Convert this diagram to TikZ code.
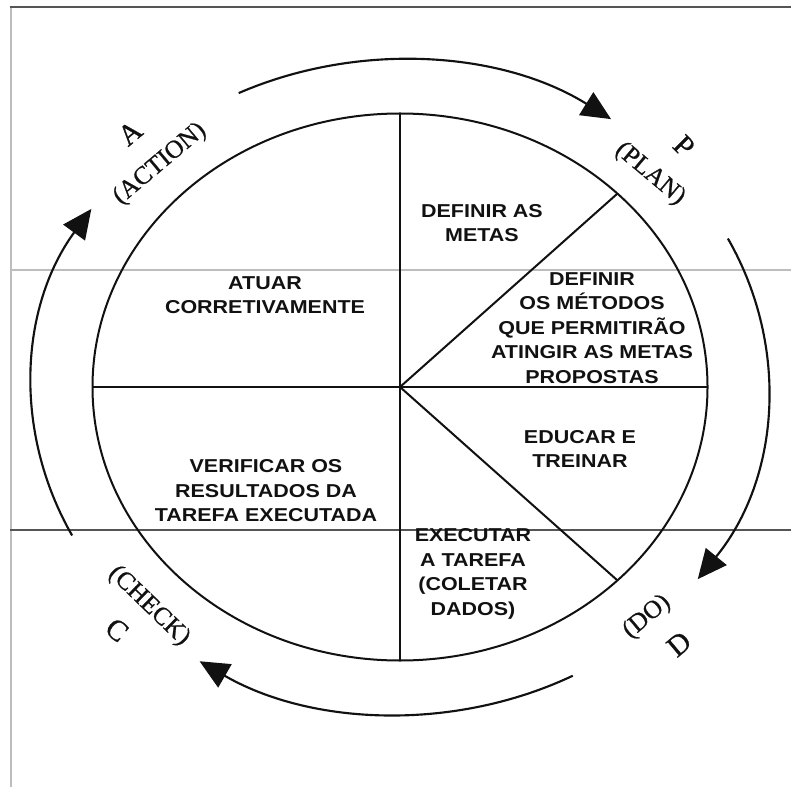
\documentclass[tikz,border=0pt]{standalone}
\usepackage{fontspec}
\setmainfont{Liberation Serif}
\setsansfont{Liberation Sans}[FakeStretch=1.15]
\newfontfamily\cyclefont{Liberation Serif}[FakeBold=0.8]
\usepackage{tikz}
\usetikzlibrary{arrows.meta,calc}
\definecolor{Ink}{HTML}{111111}
\definecolor{RuleDark}{HTML}{555555}
\definecolor{RuleFaint}{HTML}{BDBDBD}
\tikzset{
  secttext/.style={align=center, font=\sffamily\bfseries\fontsize{14}{18.4}\selectfont,
    text=Ink},
  cyclearr/.style={-{Triangle[length=22pt,width=20pt]}, line width=1.6pt, color=Ink},
  cyclelbl/.style={font=\cyclefont\fontsize{19}{22}\selectfont, text=Ink, inner sep=0pt},
  wheelline/.style={draw=Ink, line width=1.5pt},
}

\begin{document}
\begin{tikzpicture}[x=0.75pt,y=-0.75pt]
  \useasboundingbox (0,0) rectangle (791,787);
  \coordinate (c) at (400,387);

  % page rules
  \draw[RuleFaint, line width=1.5pt] (11,7) -- (11,787);
  \draw[RuleDark, line width=1.3pt] (10,7) -- (791,7);
  \draw[RuleFaint, line width=0.8pt] (10,270) -- (791,270);
  \draw[RuleDark, line width=0.8pt] (10,530) -- (791,530);

  % wheel
  \draw[wheelline] (c) ellipse [x radius=307.5, y radius=273.5];
  \foreach \ang in {-90,-45,0,45,90,180}
    \draw[wheelline] (c) -- ++(\ang:307.5 and 273.5);

  % cycle arrows
  \draw[cyclearr] (c) ++(-116:368 and 327) arc[start angle=-116, end angle=-55, x radius=368, y radius=327];
  \draw[cyclearr] (c) ++(-27:368 and 327) arc[start angle=-27, end angle=36, x radius=368, y radius=327];
  \draw[cyclearr] (c) ++(62:368 and 327) arc[start angle=62, end angle=123, x radius=368, y radius=327];
  \draw[cyclearr] (c) ++(153:368 and 327) arc[start angle=153, end angle=213, x radius=368, y radius=327];

  % PDCA labels
  \node[cyclelbl, rotate=40, font=\cyclefont\fontsize{22}{24}\selectfont]  (lblA) at (130,133) {A};
  \node[cyclelbl, rotate=40]  (lblAct)  at (160,164) {(ACTION)};
  \node[cyclelbl, rotate=-45, font=\cyclefont\fontsize{22}{24}\selectfont] (lblP) at (684,146) {P};
  \node[cyclelbl, rotate=-40] (lblPlan) at (650,174) {(PLAN)};
  \node[cyclelbl, rotate=40]  (lblDo)   at (647,617) {(DO)};
  \node[cyclelbl, rotate=40, font=\cyclefont\fontsize{22}{24}\selectfont]  (lblD) at (679,644) {D};
  \node[cyclelbl, rotate=-44] (lblChk)  at (149,606) {(CHECK)};
  \node[cyclelbl, rotate=-40, font=\cyclefont\fontsize{22}{24}\selectfont] (lblC) at (117,630) {C};

  % sectors
  \node[secttext] (metas)    at (482,223) {DEFINIR AS\\METAS};
  \node[secttext] (metodos)  at (592,328) {DEFINIR\\OS MÉTODOS\\QUE PERMITIRÃO\\ATINGIR AS METAS\\PROPOSTAS};
  \node[secttext] (treinar)  at (580,449) {EDUCAR E\\TREINAR};
  \node[secttext] (executar) at (473,574) {EXECUTAR\\A TAREFA\\(COLETAR\\DADOS)};
  \node[secttext] (verif)    at (266,491) {VERIFICAR OS\\RESULTADOS DA\\TAREFA EXECUTADA};
  \node[secttext] (atuar)    at (265,295) {ATUAR\\CORRETIVAMENTE};
\end{tikzpicture}
\end{document}
